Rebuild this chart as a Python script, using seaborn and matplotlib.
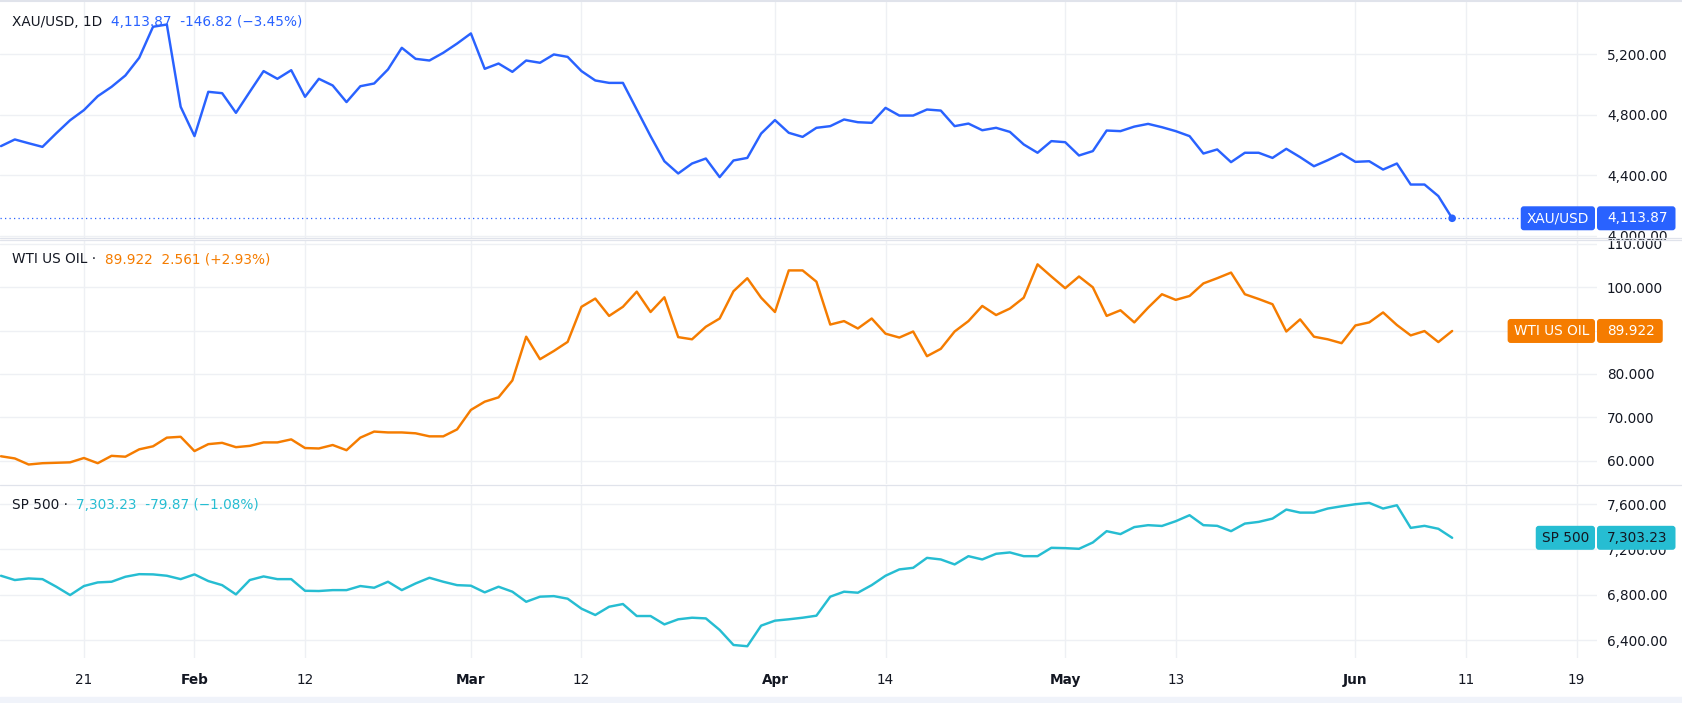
import numpy as np
import pandas as pd
import matplotlib
matplotlib.use("Agg")
import matplotlib.pyplot as plt
from matplotlib.patches import FancyBboxPatch
import seaborn as sns
from matplotlib.ticker import FuncFormatter

# ---------------- data (daily bars, mid-Jan .. Jun 10) ----------------
gold = [4591, 4635, 4610, 4586, 4676, 4762, 4829, 4921, 4983, 5058,
        5175, 5380, 5395, 4851, 4657, 4950, 4941, 4811, 4950, 5087,
        5036, 5093, 4917, 5036, 4992, 4882, 4987, 5005, 5098, 5241,
        5168, 5157, 5208, 5269, 5336, 5102, 5137, 5082, 5157, 5142,
        5197, 5181, 5087, 5025, 5009, 5009, 4833, 4657, 4491, 4410,
        4476, 4509, 4386, 4496, 4513, 4674, 4763, 4679, 4652, 4712,
        4723, 4767, 4749, 4745, 4844, 4793, 4793, 4833, 4826, 4723,
        4740, 4696, 4712, 4685, 4602, 4547, 4624, 4617, 4529, 4558,
        4694, 4690, 4720, 4738, 4716, 4690, 4657, 4542, 4569, 4485,
        4547, 4547, 4513, 4573, 4518, 4458, 4498, 4542, 4487, 4491,
        4436, 4476, 4337, 4337, 4260.69, 4113.87]

oil = [61.0, 60.5, 59.1, 59.4, 59.5, 59.6, 60.6, 59.4, 61.1, 60.9,
       62.6, 63.3, 65.3, 65.5, 62.2, 63.8, 64.1, 63.1, 63.4, 64.2,
       64.2, 64.9, 62.9, 62.8, 63.6, 62.4, 65.3, 66.7, 66.5, 66.5,
       66.3, 65.6, 65.6, 67.2, 71.7, 73.6, 74.6, 78.5, 88.6, 83.4,
       85.3, 87.4, 95.5, 97.4, 93.4, 95.5, 99.0, 94.3, 97.7, 88.5,
       88.0, 90.9, 92.8, 99.1, 102.1, 97.6, 94.3, 103.9, 103.9, 101.3,
       91.4, 92.2, 90.5, 92.8, 89.3, 88.4, 89.8, 84.1, 85.8, 89.8,
       92.2, 95.7, 93.6, 95.1, 97.6, 105.3, 102.5, 99.8, 102.5, 100.0,
       93.4, 94.7, 91.9, 95.3, 98.4, 97.1, 98.0, 100.9, 102.1, 103.4,
       98.4, 97.3, 96.1, 89.8, 92.6, 88.6, 88.0, 87.1, 91.2, 91.9,
       94.2, 91.3, 88.9, 89.9, 87.361, 89.922]

spx = [6968, 6930, 6944, 6938, 6871, 6797, 6877, 6909, 6915, 6959,
       6982, 6980, 6968, 6938, 6980, 6921, 6885, 6803, 6930, 6962,
       6938, 6938, 6835, 6833, 6841, 6841, 6877, 6862, 6915, 6841,
       6900, 6950, 6915, 6885, 6880, 6821, 6871, 6827, 6738, 6783,
       6788, 6765, 6677, 6621, 6694, 6718, 6612, 6612, 6538, 6583,
       6597, 6591, 6489, 6356, 6345, 6527, 6571, 6583, 6597, 6615,
       6783, 6827, 6818, 6885, 6968, 7024, 7038, 7126, 7112, 7068,
       7141, 7112, 7162, 7174, 7141, 7141, 7215, 7212, 7206, 7262,
       7362, 7336, 7398, 7415, 7408, 7450, 7503, 7415, 7409, 7362,
       7429, 7444, 7473, 7553, 7526, 7526, 7562, 7582, 7600, 7612,
       7562, 7591, 7391, 7409, 7383.10, 7303.23]

tick_pos = [6, 14, 22, 34, 42, 56, 64, 77, 85, 98, 106, 114]
tick_labels = ['21', 'Feb', '12', 'Mar', '12', 'Apr', '14', 'May', '13', 'Jun', '11', '19']
month_labels = ['Feb', 'Mar', 'Apr', 'May', 'Jun']

gold_ticks = [4000, 4400, 4800, 5200]
oil_ticks = [60, 70, 80, 90, 100, 110]
spx_ticks = [6400, 6800, 7200, 7600]

titles = [("XAU/USD, 1D", "4,113.87  -146.82 (\u22123.45%)"),
          ("WTI US OIL \u00b7", "89.922  2.561 (+2.93%)"),
          ("SP 500 \u00b7", "7,303.23  -79.87 (\u22121.08%)")]
box_names = ["XAU/USD", "WTI US OIL", "SP 500"]
box_values = ["4,113.87", "89.922", "7,303.23"]

# ---------------- style ----------------
BLUE = "#2962ff"
ORANGE = "#f57c00"
CYAN = "#26bdd2"
TXT = "#131722"
GRID = "#eef0f4"
SEP = "#e0e3eb"
FS = 9.8

sns.set_theme(style="white")
plt.rcParams['font.family'] = ['DejaVu Sans']

W, H = 1682, 703
fig = plt.figure(figsize=(W / 100, H / 100), dpi=100)
fig.patch.set_facecolor("white")
PLOT_R = 1597


def px_ax(top, bottom):
    return fig.add_axes([0, 1 - bottom / H, PLOT_R / W, (bottom - top) / H])


df = pd.DataFrame({"bar": np.arange(len(gold)), "gold": gold, "oil": oil, "spx": spx})

ax1 = px_ax(2, 238)
ax2 = px_ax(240, 484)
ax3 = px_ax(485, 658)


def oil_fmt(v, p):
    # the 90 label sits behind the last-price box in the original
    return "" if abs(v - 90) < 1e-6 else f"{v:.3f}"


panels = [
    (ax1, "gold", BLUE, (3983.5, 5543.8), gold_ticks, lambda v, p: f"{v:,.2f}"),
    (ax2, "oil", ORANGE, (54.6, 110.92), oil_ticks, oil_fmt),
    (ax3, "spx", CYAN, (6241, 7770), spx_ticks, lambda v, p: f"{v:,.2f}"),
]

for ax, col, color, ylim, yt, fmt in panels:
    sns.lineplot(data=df, x="bar", y=col, ax=ax, color=color, linewidth=1.75)
    ax.set_xlim(-0.072, 115.48)
    ax.set_ylim(*ylim)
    ax.set_xlabel("")
    ax.set_ylabel("")
    for s in ax.spines.values():
        s.set_visible(False)
    ax.set_xticks(tick_pos)
    ax.set_yticks(yt)
    ax.yaxis.set_major_formatter(FuncFormatter(fmt))
    ax.yaxis.tick_right()
    ax.grid(True, color=GRID, linewidth=1)
    ax.set_axisbelow(True)
    ax.tick_params(axis="y", length=0, pad=7.2, labelsize=FS, labelcolor=TXT)
    ax.tick_params(axis="x", length=0, pad=11, labelsize=FS, labelcolor=TXT)
    ax.patch.set_alpha(0)
    if ax is not ax3:
        ax.tick_params(axis="x", labelbottom=False)

ax3.set_xticklabels(tick_labels)
for lab in ax3.get_xticklabels():
    if lab.get_text() in month_labels:
        lab.set_fontweight("bold")

# last-price dotted line and dot for gold
ax1.axhline(gold[-1], color=BLUE, linewidth=0.9, linestyle=(0, (1, 2.6)))
sns.scatterplot(x=df["bar"].iloc[-1:], y=df["gold"].iloc[-1:], ax=ax1,
                color=BLUE, s=30, edgecolor="none", zorder=5)

# separators & borders
fig.add_artist(plt.Line2D([0, 1], [1 - 1 / H, 1 - 1 / H], color=SEP, linewidth=1.5))
for yy in (237.5, 240.5, 484.5):
    fig.add_artist(plt.Line2D([0, 1], [1 - yy / H, 1 - yy / H], color=SEP, linewidth=0.9))
fig.add_artist(plt.Rectangle((0, 0), 1, 6 / H, color="#f0f3fa", transform=fig.transFigure))

renderer = fig.canvas.get_renderer()

# titles
title_y = [21.7, 259.3, 505.0]
colors = [BLUE, ORANGE, CYAN]
for (name, vals), ty, c in zip(titles, title_y, colors):
    t = fig.text(11.5 / W, 1 - ty / H, name, color=TXT, fontsize=FS, va="center", ha="left")
    ext = t.get_window_extent(renderer)
    fig.text((ext.x1 + 9) / W, 1 - ty / H, vals, color=c, fontsize=FS, va="center", ha="left")


def box(x0, x1, yc, color):
    h = 24
    p = FancyBboxPatch((x0 / W, (yc - h / 2) / H), (x1 - x0) / W, h / H,
                       boxstyle="round,pad=0,rounding_size=0.0018",
                       transform=fig.transFigure, fc=color, ec="none", zorder=9,
                       mutation_aspect=W / H)
    fig.add_artist(p)


# price boxes at right
for (ax, col, color, *_), name, val in zip(panels, box_names, box_values):
    y_disp = ax.transData.transform((0, df[col].iloc[-1]))[1]
    tc = TXT if color == CYAN else "white"
    tn = fig.text(1589 / W, y_disp / H, name, color=tc, fontsize=FS, va="center",
                  ha="right", zorder=10)
    tv = fig.text(1607 / W, y_disp / H, val, color=tc, fontsize=FS, va="center",
                  ha="left", zorder=10)
    en = tn.get_window_extent(renderer)
    ev = tv.get_window_extent(renderer)
    box(en.x0 - 6, 1595, y_disp, color)
    box(1597, ev.x1 + 8, y_disp, color)

fig.savefig("out.png", dpi=100, facecolor="white")
